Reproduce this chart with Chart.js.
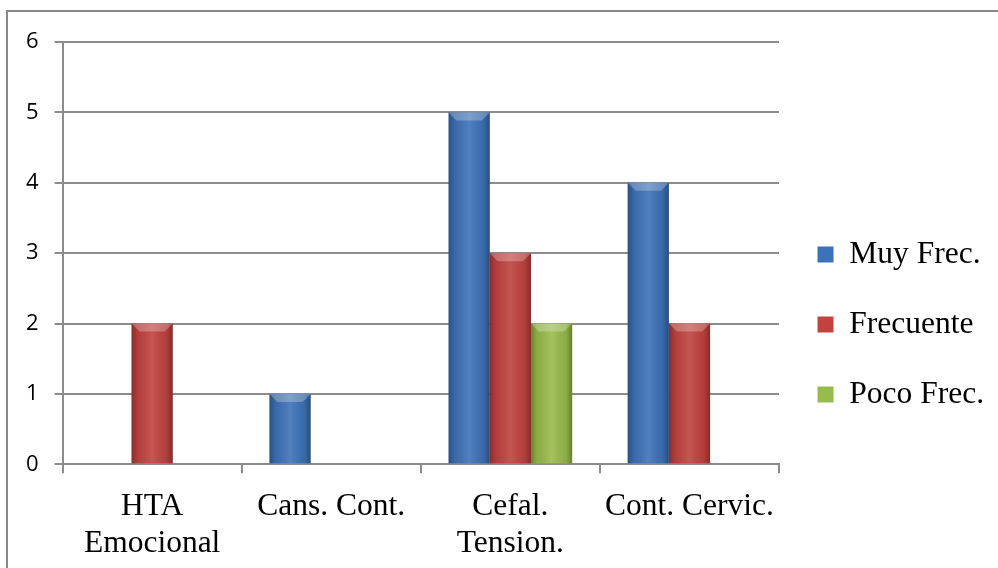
<!DOCTYPE html>
<html>
<head>
<meta charset="utf-8">
<script src="https://cdn.jsdelivr.net/npm/chart.js@4.4.1/dist/chart.umd.min.js"></script>
<style>
  body { margin: 0; background: #fff; }
  #frame { position: absolute; left: 6px; top: 10px; width: 992px; height: 558px;
           border-top: 2px solid #888; border-left: 2px solid #888; }
  #wrap { position: absolute; left: 0; top: 0; width: 998px; height: 568px; }
</style>
</head>
<body>
<div id="frame"></div>
<div id="wrap"><canvas id="canvas"></canvas></div>
<script>
var categories = [['HTA', 'Emocional'], 'Cans. Cont.', ['Cefal.', 'Tension.'], 'Cont. Cervic.'];
var seriesNames = ['Muy Frec.', 'Frecuente', 'Poco Frec.'];
var muyFrec = [0, 1, 5, 4];
var frecuente = [2, 0, 3, 2];
var pocoFrec = [0, 0, 2, 0];
var yTicks = [0, 1, 2, 3, 4, 5, 6];

var colors = ['#3d72b8', '#c0433f', '#98bc4b'];

// shading on top of the flat bars, cylinder look + bevel on top
const barShade = {
  id: 'barShade',
  afterDatasetsDraw(chart) {
    const c = chart.ctx;
    chart.data.datasets.forEach(function(ds, i) {
      chart.getDatasetMeta(i).data.forEach(function(bar) {
        const h = bar.base - bar.y;
        if (h <= 0) return;
        const x0 = bar.x - bar.width / 2, x1 = bar.x + bar.width / 2;
        c.save();
        const g = c.createLinearGradient(x0, 0, x1, 0);
        g.addColorStop(0, 'rgba(0,0,0,0.30)');
        g.addColorStop(0.15, 'rgba(0,0,0,0.08)');
        g.addColorStop(0.5, 'rgba(255,255,255,0.10)');
        g.addColorStop(0.85, 'rgba(0,0,0,0.08)');
        g.addColorStop(1, 'rgba(0,0,0,0.32)');
        c.fillStyle = g;
        c.fillRect(x0, bar.y, bar.width, h);
        const b = Math.min(8, h / 2);
        c.beginPath();
        c.moveTo(x0, bar.y);
        c.lineTo(x1, bar.y);
        c.lineTo(x1 - b, bar.y + b);
        c.lineTo(x0 + b, bar.y + b);
        c.closePath();
        c.fillStyle = 'rgba(255,255,255,0.25)';
        c.fill();
        c.restore();
      });
    });
  }
};

const ctx = document.getElementById('canvas');

new Chart(ctx, {
  type: 'bar',
  data: {
    labels: categories,
    datasets: [
      { label: seriesNames[0], data: muyFrec, backgroundColor: colors[0], borderWidth: 0 },
      { label: seriesNames[1], data: frecuente, backgroundColor: colors[1], borderWidth: 0 },
      { label: seriesNames[2], data: pocoFrec, backgroundColor: colors[2], borderWidth: 0 }
    ]
  },
  plugins: [barShade],
  options: {
    responsive: true,
    maintainAspectRatio: false,
    animation: false,
    layout: { padding: { left: 10, top: 42, right: 4, bottom: -9 } },
    datasets: { bar: { categoryPercentage: 0.69, barPercentage: 1.0 } },
    plugins: {
      tooltip: { enabled: false },
      legend: {
        position: 'right',
        title: { display: true, text: ' ', font: { size: 20 }, padding: 3 },
        labels: {
          color: '#000',
          font: { family: 'Liberation Serif', size: 31.5 },
          boxWidth: 16,
          boxHeight: 16,
          padding: 38.5
        }
      }
    },
    scales: {
      y: {
        min: 0,
        max: 6,
        afterBuildTicks: function(axis) { axis.ticks = yTicks.map(function(v) { return { value: v }; }); },
        grid: { color: '#8c8c8c', lineWidth: 2, tickLength: 8 },
        border: { color: '#8c8c8c', width: 2 },
        ticks: { color: '#000', font: { family: 'Open Sans', size: 22 }, padding: 16 }
      },
      x: {
        grid: { offset: true, drawOnChartArea: false, color: '#8c8c8c', lineWidth: 2, tickLength: 9 },
        border: { color: '#8c8c8c', width: 2 },
        ticks: { color: '#000', font: { family: 'Liberation Serif', size: 31.5, lineHeight: 1.17 }, padding: 15, maxRotation: 0 }
      }
    }
  }
});
</script>
</body>
</html>
